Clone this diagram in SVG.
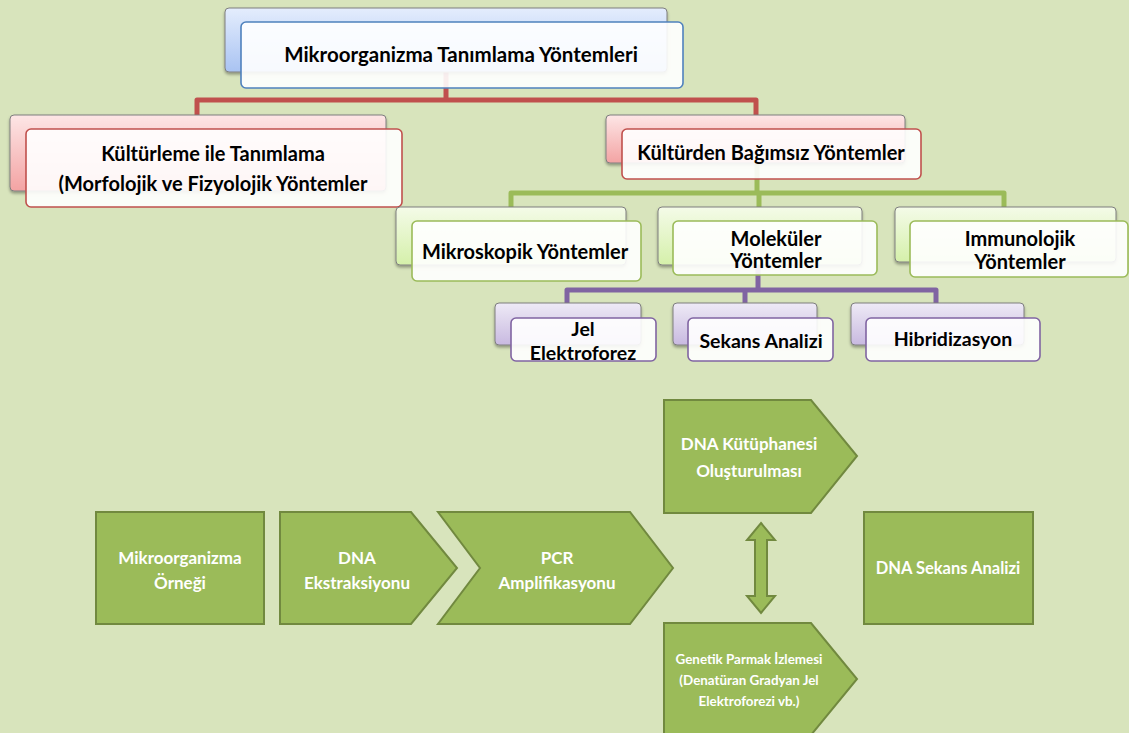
<svg xmlns="http://www.w3.org/2000/svg" width="1129" height="733" viewBox="0 0 1129 733">
<defs>
<linearGradient id="gBlue" x1="0" y1="0" x2="0" y2="1"><stop offset="0" stop-color="#e4edfd"/><stop offset="1" stop-color="#a9c3f2"/></linearGradient>
<linearGradient id="gRed" x1="0" y1="0" x2="0" y2="1"><stop offset="0" stop-color="#fde6e6"/><stop offset="1" stop-color="#f3a3a3"/></linearGradient>
<linearGradient id="gGreen" x1="0" y1="0" x2="0" y2="1"><stop offset="0" stop-color="#f4fbe8"/><stop offset="1" stop-color="#d5f0aa"/></linearGradient>
<linearGradient id="gPurple" x1="0" y1="0" x2="0" y2="1"><stop offset="0" stop-color="#eeeaf6"/><stop offset="1" stop-color="#c8b9e0"/></linearGradient>
<filter id="sh" x="-5%" y="-10%" width="110%" height="130%"><feDropShadow dx="0" dy="2" stdDeviation="1.5" flood-color="#000" flood-opacity="0.35"/></filter>
</defs>
<style>
.back{stroke:#7f7f7f;stroke-width:1;filter:url(#sh)}
.front{fill:#ffffff;fill-opacity:0.9;stroke-width:1.6}
.t{font-family:Lato,"Liberation Sans",sans-serif;font-weight:bold;fill:#000;text-anchor:middle;dominant-baseline:central}
.w{font-family:Lato,"Liberation Sans",sans-serif;font-weight:bold;fill:#fff;text-anchor:middle;dominant-baseline:central}
.sh{fill:#9bbb59;stroke:#71893f;stroke-width:2}
.c{fill:none;stroke-width:5;stroke-linejoin:round}
</style>
<rect width="1129" height="733" fill="#d8e4bc"/>
<g id="connectors">
<path class="c" stroke="#c0504d" d="M446 72V100M197 115V100H756V115"/>
<path class="c" stroke="#9bbb59" d="M757 163V193M511 207V193H1004V207M759 193V207"/>
<path class="c" stroke="#8064a2" d="M758 265V290M567 303V290H936V303M745 290V303"/>
</g>
<g id="n-top">
<rect class="back" x="225" y="8" width="442" height="64" rx="4" fill="url(#gBlue)"/>
<rect class="front" x="241" y="22" width="442" height="66" rx="5" stroke="#4f81bd"/>
<text class="t" x="461" y="54" font-size="20.5">Mikroorganizma Tanımlama Yöntemleri</text>
</g>
<g id="n-kulturleme">
<rect class="back" x="10" y="115" width="376" height="76" rx="4" fill="url(#gRed)"/>
<rect class="front" x="26" y="129" width="376" height="78" rx="5" stroke="#c0504d"/>
<text class="t" x="213" y="153" font-size="20">Kültürleme ile Tanımlama</text>
<text class="t" x="213" y="183" font-size="20">(Morfolojik ve Fizyolojik Yöntemler</text>
</g>
<g id="n-kulturden">
<rect class="back" x="606" y="115" width="299" height="48" rx="4" fill="url(#gRed)"/>
<rect class="front" x="622" y="129" width="299" height="50" rx="5" stroke="#c0504d"/>
<text class="t" x="771" y="152" font-size="20">Kültürden Bağımsız Yöntemler</text>
</g>
<g id="n-mikroskopik">
<rect class="back" x="396" y="207" width="230" height="58" rx="4" fill="url(#gGreen)"/>
<rect class="front" x="412" y="221" width="229" height="60" rx="5" stroke="#9bbb59"/>
<text class="t" x="525" y="251" font-size="20">Mikroskopik Yöntemler</text>
</g>
<g id="n-molekuler">
<rect class="back" x="658" y="207" width="204" height="58" rx="4" fill="url(#gGreen)"/>
<rect class="front" x="673" y="221" width="204" height="54" rx="5" stroke="#9bbb59"/>
<text class="t" x="776" y="238" font-size="20">Moleküler</text>
<text class="t" x="776" y="260" font-size="20">Yöntemler</text>
</g>
<g id="n-immunolojik">
<rect class="back" x="895" y="207" width="221" height="55" rx="4" fill="url(#gGreen)"/>
<rect class="front" x="910" y="221" width="218" height="56" rx="5" stroke="#9bbb59"/>
<text class="t" x="1020" y="238" font-size="20">Immunolojik</text>
<text class="t" x="1020" y="261" font-size="20">Yöntemler</text>
</g>
<g id="n-jel">
<rect class="back" x="495" y="303" width="146" height="42" rx="4" fill="url(#gPurple)"/>
<rect class="front" x="511" y="318" width="145" height="43" rx="5" stroke="#8064a2"/>
<text class="t" x="583" y="328" font-size="19.5">Jel</text>
<text class="t" x="583" y="352" font-size="19.5">Elektroforez</text>
</g>
<g id="n-sekans">
<rect class="back" x="673" y="303" width="144" height="42" rx="4" fill="url(#gPurple)"/>
<rect class="front" x="688" y="318" width="145" height="43" rx="5" stroke="#8064a2"/>
<text class="t" x="761" y="340" font-size="19.5">Sekans Analizi</text>
</g>
<g id="n-hibridizasyon">
<rect class="back" x="851" y="303" width="173" height="42" rx="4" fill="url(#gPurple)"/>
<rect class="front" x="866" y="318" width="174" height="43" rx="5" stroke="#8064a2"/>
<text class="t" x="953" y="338" font-size="19.5">Hibridizasyon</text>
</g>
<g id="p-ornek">
<rect class="sh" x="96" y="512" width="168" height="112"/>
<text class="w" x="180" y="557" font-size="17">Mikroorganizma</text>
<text class="w" x="180" y="582" font-size="17">Örneği</text>
</g>
<g id="p-ekstraksiyon">
<polygon class="sh" points="280,512 411,512 457,568 411,624 280,624"/>
<text class="w" x="357" y="557" font-size="17">DNA</text>
<text class="w" x="357" y="582" font-size="17">Ekstraksiyonu</text>
</g>
<g id="p-pcr">
<polygon class="sh" points="438,512 630,512 673,568 630,624 438,624 480,568"/>
<text class="w" x="557" y="557" font-size="17">PCR</text>
<text class="w" x="557" y="582" font-size="17">Amplifikasyonu</text>
</g>
<g id="p-kutuphane">
<polygon class="sh" points="664,400 811,400 857,456 811,513 664,513"/>
<text class="w" x="749" y="443" font-size="17">DNA Kütüphanesi</text>
<text class="w" x="749" y="470" font-size="17">Oluşturulması</text>
</g>
<g id="p-arrow">
<polygon class="sh" points="761,523 775,540 767,540 767,596 775,596 761,613 747,596 755,596 755,540 747,540"/>
</g>
<g id="p-sekans">
<rect class="sh" x="864" y="512" width="169" height="112"/>
<text class="w" x="948" y="568" font-size="16.5">DNA Sekans Analizi</text>
</g>
<g id="p-genetik">
<polygon class="sh" points="664,623 811,623 857,679 811,735 664,735"/>
<text class="w" x="749" y="659" font-size="13.4">Genetik Parmak İzlemesi</text>
<text class="w" x="749" y="680" font-size="13.4">(Denatüran Gradyan Jel</text>
<text class="w" x="749" y="701" font-size="13.4">Elektroforezi vb.)</text>
</g>
</svg>
